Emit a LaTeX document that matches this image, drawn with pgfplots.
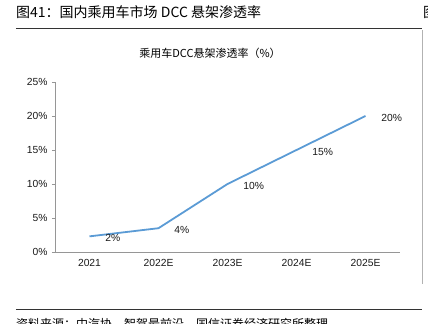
\documentclass[border=0pt]{standalone}
\usepackage{pgfplots}
\pgfplotsset{compat=1.18}
\usepackage{fontspec}
\setmainfont{Liberation Sans}
\newfontfamily\cjk{Noto Sans CJK SC}
\definecolor{lineblue}{RGB}{91,155,213}
\definecolor{axgray}{RGB}{150,150,150}
\begin{document}
\begin{tikzpicture}
\useasboundingbox (-55bp,-72bp) rectangle (373bp,252bp);
% header
\node[anchor=base west, inner sep=0pt] at (-39bp,234bp) {\cjk\fontsize{14bp}{16bp}\selectfont 图41：国内乘用车市场 DCC 悬架渗透率};
\node[anchor=base west, inner sep=0pt] at (368bp,234bp) {\cjk\fontsize{14bp}{16bp}\selectfont 图};
\draw[line width=0.9bp, black!80] (-39bp,224bp) -- (367bp,224bp);
\draw[line width=0.5bp, black!30] (367bp,222bp) -- (367bp,-32bp);
% footer
\draw[line width=0.9bp, black!80] (-39bp,-57bp) -- (367bp,-57bp);
\node[anchor=base west, inner sep=0pt] at (-39bp,-76bp) {\cjk\fontsize{12bp}{14bp}\selectfont 资料来源：中汽协、智驾最前沿、国信证券经济研究所整理};
% chart title
\node[anchor=center, inner sep=0pt] at (155bp,199bp) {\cjk\fontsize{11bp}{13bp}\selectfont 乘用车DCC悬架渗透率（\%）};
\begin{axis}[
  at={(0,0)}, anchor=south west,
  scale only axis, width=345bp, height=170bp,
  xmin=-0.5, xmax=4.5, ymin=0, ymax=25,
  axis x line*=bottom, axis y line*=left,
  axis line style={axgray, line width=0.7bp, -},
  tick style={axgray, line width=0.7bp},
  tick align=outside,
  xtick={0,1,2,3,4},
  xticklabels={2021,2022E,2023E,2024E,2025E},
  x tick style={draw=none},
  minor xtick={-0.5,0.5,1.5,2.5,3.5,4.5},
  minor x tick style={axgray, line width=0.7bp},
  minor tick length=3bp,
  major tick length=3bp,
  ytick={0,5,10,15,20,25},
  yticklabels={0\%,5\%,10\%,15\%,20\%,25\%},
  ticklabel style={font=\fontsize{10.3bp}{12bp}\selectfont, text=black!90},
  xticklabel style={yshift=-1bp},
  yticklabel style={xshift=-1bp},
  point meta=explicit symbolic,
  nodes near coords={\pgfplotspointmeta},
  every node near coord/.append style={anchor=west, inner sep=0pt, xshift=15bp, yshift=-1.5bp, font=\fontsize{10.3bp}{12bp}\selectfont, text=black!90},
  clip=false,
]
\addplot[color=lineblue, line width=1.8bp, mark=none] coordinates {
  (0,2.3)[2\%] (1,3.5)[4\%] (2,10)[10\%] (3,15)[15\%] (4,20)[20\%]
};
\end{axis}
\end{tikzpicture}
\end{document}
